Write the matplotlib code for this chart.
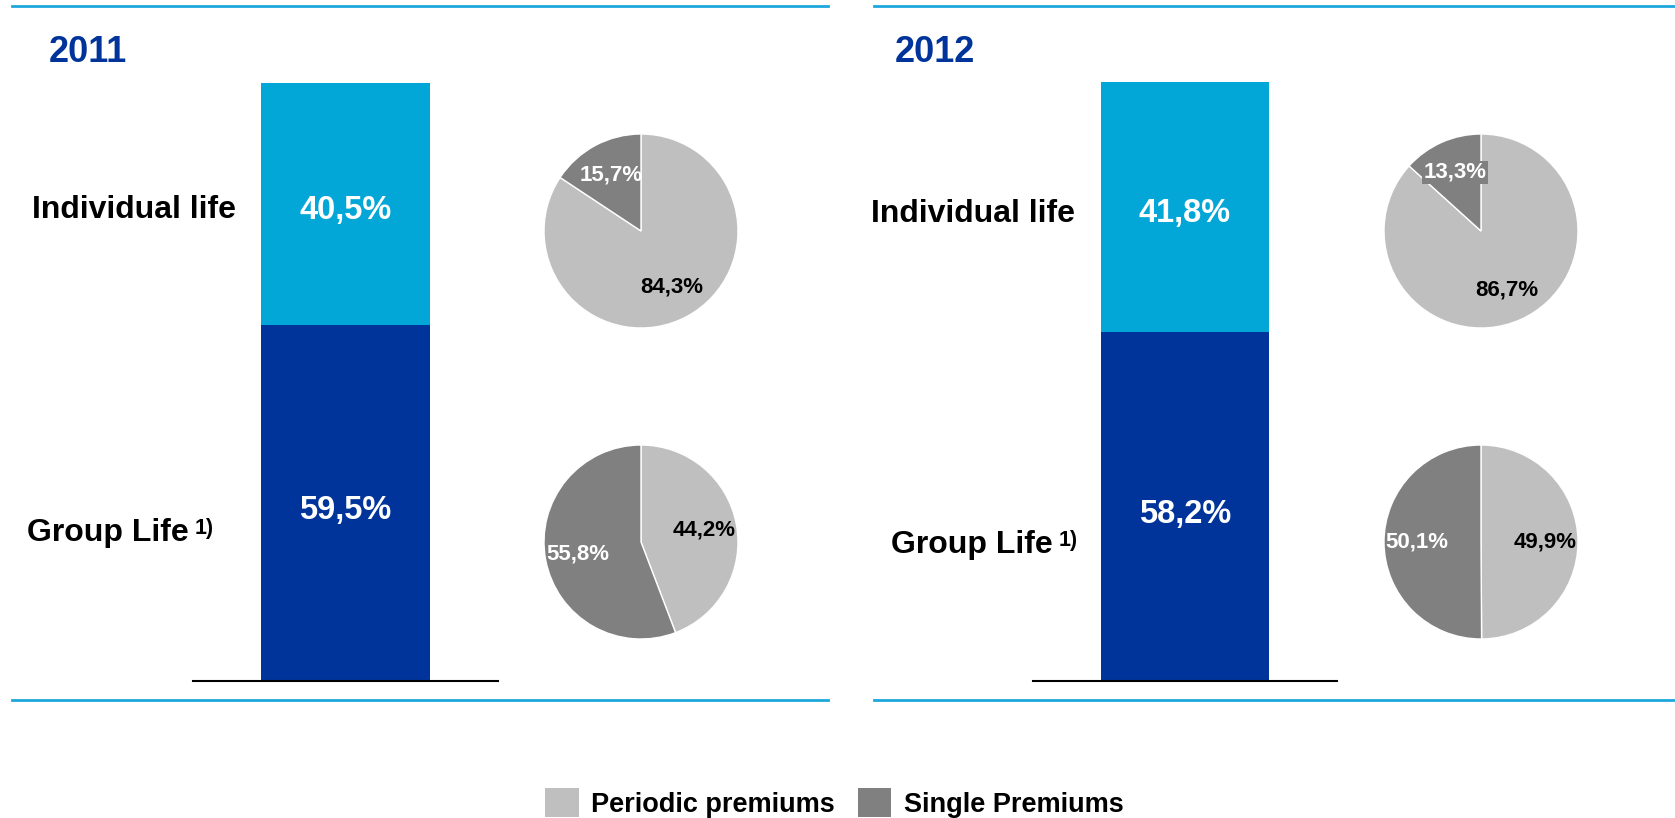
import matplotlib
matplotlib.use("Agg")
import matplotlib.pyplot as plt
from matplotlib.lines import Line2D
from matplotlib.patches import Patch

plt.rcParams['font.family'] = ['Liberation Sans', 'DejaVu Sans']
plt.rcParams['font.weight'] = 'bold'

# data
years = ['2011', '2012']
individual_life = [40.5, 41.8]
group_life = [59.5, 58.2]
# pies: [periodic, single]
pie_individual = [[84.3, 15.7], [86.7, 13.3]]
pie_group = [[44.2, 55.8], [49.9, 50.1]]
legend_labels = ['Periodic premiums', 'Single Premiums']

light_blue = '#02A6D7'
dark_blue = '#00349A'
line_blue = '#1EA7DC'
periodic_col = '#BFBFBF'
single_col = '#808080'

W, H = 1675, 818
fig = plt.figure(figsize=(W / 100, H / 100), dpi=100)


def box(x0, y0, x1, y1):
    # pixel box (top-left origin) -> figure fraction rect
    return [x0 / W, 1 - y1 / H, (x1 - x0) / W, (y1 - y0) / H]


def pct(p):
    return f"{p:.1f}%".replace('.', ',')


panels = [
    dict(line=(12, 828), title_x=49, bar=(193, 498, 83, 681),
         ind_x=32, grp_x=27, ind_y=210, grp_y=533, pie_x=641),
    dict(line=(874, 1675), title_x=895, bar=(1033, 1337, 82, 681),
         ind_x=871, grp_x=891, ind_y=214, grp_y=545, pie_x=1481),
]

for i, p in enumerate(panels):
    # frame lines
    x0, x1 = p['line']
    fig.add_artist(Line2D([x0 / W, x1 / W], [1 - 6 / H] * 2, color=line_blue, lw=2))
    fig.add_artist(Line2D([x0 / W, x1 / W], [1 - 700 / H] * 2, color=line_blue, lw=2))

    fig.text(p['title_x'] / W, 1 - 52 / H, years[i], color=dark_blue,
             fontsize=26, fontweight='bold', ha='left', va='center')

    # stacked bar
    bx0, bx1, by0, by1 = p['bar']
    ax = fig.add_axes(box(bx0, by0, bx1, by1))
    ax.bar([0], [group_life[i]], width=1.11, color=dark_blue)
    ax.bar([0], [individual_life[i]], bottom=[group_life[i]], width=1.11, color=light_blue)
    ax.set_xlim(-1, 1)
    ax.set_ylim(0, 100)
    for s in ['top', 'left', 'right']:
        ax.spines[s].set_visible(False)
    ax.spines['bottom'].set_linewidth(1.5)
    ax.set_xticks([])
    ax.set_yticks([])
    ax.patch.set_alpha(0)
    ax.annotate(pct(group_life[i]), xy=(0, group_life[i] / 2), xytext=(0, -5.5),
                textcoords='offset points', color='white', fontsize=23.5,
                ha='center', va='center')
    ax.annotate(pct(individual_life[i]), xy=(0, group_life[i] + individual_life[i] / 2),
                xytext=(0, -4.5), textcoords='offset points', color='white',
                fontsize=23.5, ha='center', va='center')

    fig.text(p['ind_x'] / W, 1 - p['ind_y'] / H, 'Individual life', fontsize=23,
             ha='left', va='center')
    g = fig.text(p['grp_x'] / W, 1 - p['grp_y'] / H, 'Group Life', fontsize=23,
                 ha='left', va='center')
    ax.annotate('1)', xy=(1, 1), xycoords=g, xytext=(4, 0),
                textcoords='offset points', fontsize=15.5, ha='left', va='top',
                annotation_clip=False)

    # pies
    for k, (vals, cy) in enumerate([(pie_individual[i], 231), (pie_group[i], 542)]):
        r = 97
        pa = fig.add_axes(box(p['pie_x'] - r, cy - r, p['pie_x'] + r, cy + r))
        wedges, texts, autotexts = pa.pie(
            vals, colors=[periodic_col, single_col], startangle=90,
            counterclock=False, radius=1, pctdistance=0.66,
            autopct=pct, wedgeprops=dict(edgecolor='white', linewidth=1),
            textprops=dict(fontsize=16, fontweight='bold'))
        autotexts[0].set_color('black')
        autotexts[1].set_color('white')
        if i == 1 and k == 0:
            autotexts[1].set_bbox(dict(facecolor=single_col, edgecolor='none', pad=1))
        pa.set_xlim(-1, 1)
        pa.set_ylim(-1, 1)
        pa.set_aspect('equal')

handles = [Patch(facecolor=periodic_col), Patch(facecolor=single_col)]
fig.legend(handles, legend_labels, ncol=2, loc='center',
           bbox_to_anchor=(834 / W, 1 - 803 / H), frameon=False,
           prop=dict(size=19.5, weight='bold'), handlelength=1.25,
           handleheight=1.25, handletextpad=0.45, columnspacing=0.85,
           borderpad=0)

fig.savefig('out.png', dpi=100)
